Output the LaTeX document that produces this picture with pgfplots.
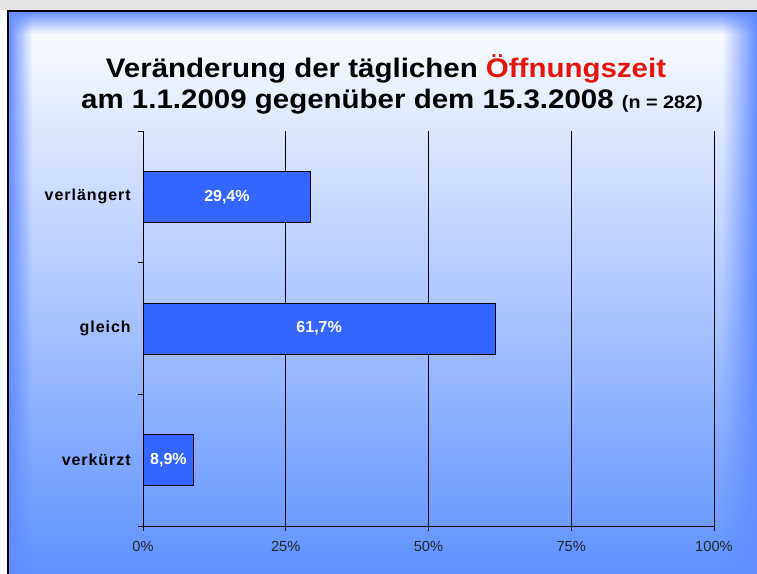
\documentclass[border=0pt]{standalone}
\usepackage{fontspec}
\setmainfont{Liberation Sans}
\newfontfamily\lsfont[LetterSpace=6]{Liberation Sans}
\newfontfamily\titlefont[FakeStretch=1.1]{Liberation Sans}
\usepackage{pgfplots}
\pgfplotsset{compat=1.18}
\usetikzlibrary{fadings}

\definecolor{barblue}{RGB}{51,102,255}
\definecolor{glow}{RGB}{100,140,255}
\definecolor{bgmid}{RGB}{228,234,255}
\definecolor{bgbot}{RGB}{95,145,255}
\definecolor{titlered}{RGB}{228,22,12}

\tikzfading[name=fadeR, left color=transparent!0, right color=transparent!100]
\tikzfading[name=fadeL, left color=transparent!100, right color=transparent!0]
\tikzfading[name=fadeD, top color=transparent!0, bottom color=transparent!100]

\begin{document}
\begin{tikzpicture}
% slide background, in pixel units (y downwards)
\begin{scope}[x=0.75pt,y=-0.75pt]
\useasboundingbox (0,0) rectangle (757,574);
\fill[white] (0,0) rectangle (757,574);
\fill[black!10] (0,0) rectangle (757,10);
\shade[top color=white, middle color=bgmid, bottom color=bgbot] (8,11) rectangle (757,574);
\fill[glow, path fading=fadeR] (8,11) rectangle (32,574);
\fill[glow, path fading=fadeD] (8,11) rectangle (757,34);
\fill[glow, path fading=fadeL] (722,11) rectangle (757,574);
\draw[black, line width=1.5pt] (8,574) -- (8,11) -- (757,11);

\node[anchor=base, font=\titlefont\bfseries\fontsize{20.1}{24}\selectfont]
  at (386,78) {Veränderung der täglichen \textcolor{titlered}{Öffnungszeit}};
\node[anchor=base, font=\titlefont\bfseries\fontsize{20.1}{24}\selectfont]
  at (392,109) {am 1.1.2009 gegenüber dem 15.3.2008 {\fontsize{13.5}{15}\selectfont(n = 282)}};
\end{scope}

\begin{axis}[
  at={(107.25pt,-394.5pt)}, anchor=south west,
  width=428.25pt, height=296.25pt, scale only axis,
  xmin=0, xmax=100, ymin=-0.5, ymax=2.5,
  axis x line*=bottom, axis y line*=left,
  axis line style={black, line width=0.75pt},
  xtick={0,25,50,75,100},
  xticklabels={0\%,25\%,50\%,75\%,100\%},
  xticklabel style={font=\fontsize{11}{13}\selectfont, text=black!85, yshift=-4.5pt},
  xmajorgrids,
  major grid style={black, line width=0.75pt},
  ytick={-0.5,0.5,1.5,2.5}, yticklabels={},
  extra y ticks={0,1,2},
  extra y tick labels={verkürzt,gleich,verlängert},
  extra y tick style={major tick length=0pt, grid=none,
    yticklabel style={font=\lsfont\bfseries\fontsize{12}{14}\selectfont, inner xsep=0pt, xshift=-9pt}},
  tick align=outside,
  major tick length=3.75pt,
  tick style={black, line width=0.75pt},
]
\addplot[xbar, bar width=38.25pt, fill=barblue, draw=black, line width=0.75pt]
  coordinates {(8.9,0) (61.7,1) (29.4,2)};

\addplot[only marks, mark=none, nodes near coords, point meta=explicit symbolic,
  every node near coord/.append style={anchor=center, text=white,
    font=\bfseries\fontsize{12}{14}\selectfont}]
  coordinates {(4.45,0) [8,9\%] (30.85,1) [61,7\%] (14.7,2) [29,4\%]};
\end{axis}
\end{tikzpicture}
\end{document}
